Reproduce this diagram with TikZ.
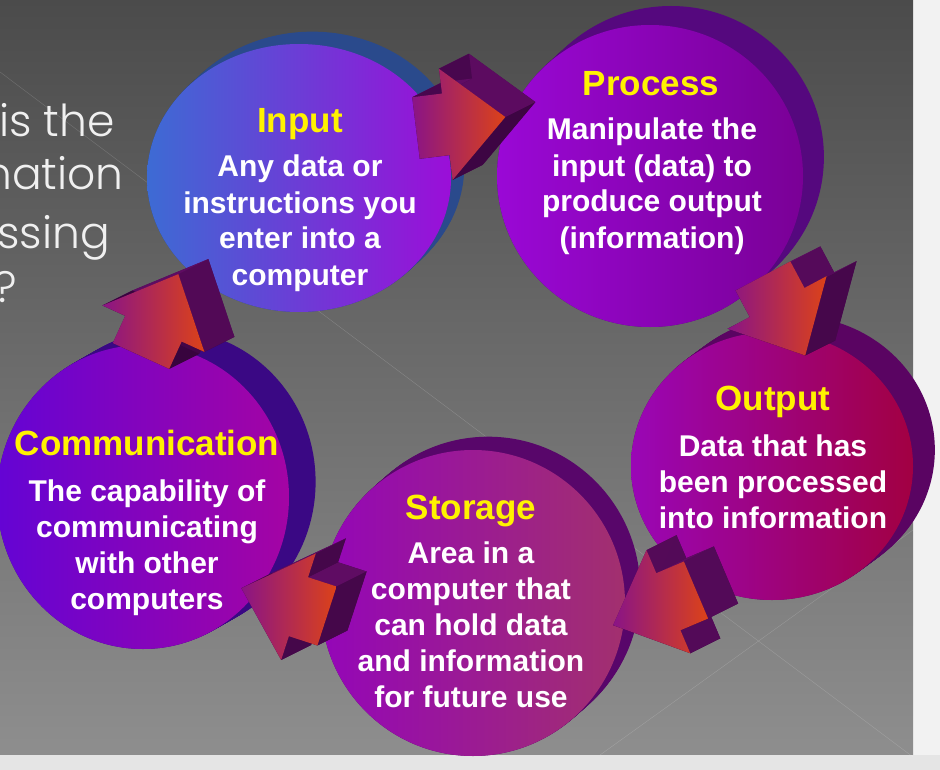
\documentclass[tikz,border=0pt]{standalone}
\usepackage{fontspec}
\setmainfont{Liberation Sans}
\newfontfamily\gothic{Poppins Light}
\usetikzlibrary{calc}

\definecolor{bgtop}{HTML}{4B4B4B}
\definecolor{bgbottom}{HTML}{8E8E8E}
\definecolor{inputL}{HTML}{3D6BD4}
\definecolor{inputR}{HTML}{9B0ED8}
\definecolor{inputS}{HTML}{2A4A8C}
\definecolor{processL}{HTML}{9A08D6}
\definecolor{processR}{HTML}{7A0096}
\definecolor{processS}{HTML}{55087E}
\definecolor{outputL}{HTML}{9A06B6}
\definecolor{outputR}{HTML}{A20042}
\definecolor{outputS}{HTML}{5A0462}
\definecolor{storageL}{HTML}{9406B8}
\definecolor{storageR}{HTML}{A2306E}
\definecolor{storageS}{HTML}{58066A}
\definecolor{commL}{HTML}{6404D4}
\definecolor{commR}{HTML}{A404A4}
\definecolor{commS}{HTML}{3A0884}
\definecolor{arrowL}{HTML}{8A1486}
\definecolor{arrowR}{HTML}{DC4218}
\definecolor{arrowS}{HTML}{4A0652}
\definecolor{arrowTop}{HTML}{600C64}
\definecolor{arrowDark}{HTML}{36043C}

\tikzset{
	stagetitle/.style={anchor=base, inner sep=0pt, text=yellow, font=\fontsize{35}{40}\selectfont\bfseries},
	stagetext/.style={anchor=base, inner sep=0pt, text=white, align=center, font=\fontsize{30}{36}\selectfont\bfseries},
	sidetext/.style={anchor=base east, inner sep=0pt, text=white!94!black, font=\gothic\fontsize{44}{50}\selectfont},
	arrowside/.style={fill=arrowS},
	arrowface/.style={left color=arrowL, right color=arrowR},
}

% disc with its depth: name, centre, x radius, y radius, depth dx, depth dy
\newcommand\stage[6]{%
	\coordinate (#1) at (#2);
	\foreach \t in {0,0.05,...,1}
		\fill[#1S] ([shift={(\t*#5,\t*#6)}]#1) ellipse [x radius=#3, y radius=#4];
	\shade[left color=#1L, right color=#1R] (#1) ellipse [x radius=#3, y radius=#4];
}

% block arrow with depth: name, tail, direction
\newcommand\flowarrow[3]{%
	\coordinate (#1) at (#2);
	\path (#1) ++(#3+90:31) coordinate (#1-1)
		++(#3:30) coordinate (#1-2)
		++(#3+90:25) coordinate (#1-3)
		(#1) ++(#3:90) coordinate (#1-4)
		(#1) ++(#3:30) ++(#3-90:56) coordinate (#1-5)
		++(#3+90:25) coordinate (#1-6)
		(#1) ++(#3-90:31) coordinate (#1-7);
	\fill[arrowside] ([shift={(30,-15)}]#1-1) -- ([shift={(30,-15)}]#1-2) -- ([shift={(30,-15)}]#1-3)
		-- ([shift={(30,-15)}]#1-4) -- ([shift={(30,-15)}]#1-5) -- ([shift={(30,-15)}]#1-6)
		-- ([shift={(30,-15)}]#1-7) -- cycle;
	% sides, lighter where they face up
	\foreach \i/\j/\n in {1/2/90, 2/3/180, 3/4/47, 4/5/-47, 5/6/180, 6/7/-90, 7/1/180} {
		\pgfmathsetmacro\sidemix{50-50*sin(#3+\n)}
		\fill[arrowTop!\sidemix!arrowDark] (#1-\i) -- (#1-\j) -- ([shift={(30,-15)}]#1-\j) -- ([shift={(30,-15)}]#1-\i) -- cycle;
	}
	\shade[arrowface] (#1-1) -- (#1-2) -- (#1-3) -- (#1-4) -- (#1-5) -- (#1-6) -- (#1-7) -- cycle;
}

\begin{document}
\begin{tikzpicture}[x=1pt, y=-1pt]
	\useasboundingbox (0,0) rectangle (940,770);

	% slide
	\fill[white!95!black] (0,0) rectangle (940,770);
	\shade[top color=bgtop, bottom color=bgbottom] (0,0) rectangle (913,755);
	\fill[white!90!black] (0,755) rectangle (940,770);
	\draw[white, opacity=0.18, thin] (0,72) -- (913,757);
	\draw[white, opacity=0.18, thin] (913,530) -- (600,755);

	\node[sidetext] (q1) at (115,137) {is the};
	\node[sidetext] (q2) at (124,190) {nation};
	\node[sidetext] (q3) at (110,248) {essing};
	\node[sidetext] (q4) at (17,302) {e?};

	% discs
	\foreach \name/\cx/\cy/\rx/\ry/\dx/\dy in {comm/143/497/146/152/28/-16,
			storage/473/603/152/153/16/-14, output/772/466/141/134/23/-17,
			process/650/176/153/151/22/-20, input/299/178/152/134/14/-13}
		\stage{\name}{\cx,\cy}{\rx}{\ry}{\dx}{\dy};

	% texts (base of a text block = its last line)
	\node[stagetitle] (input-title) at (300,132.5) {Input};
	\node[stagetext] (input-text) at (300,285) {Any data or\\instructions you\\enter into a\\computer};

	\node[stagetitle] (process-title) at (651,95.5) {Process};
	\node[stagetext] (process-text) at (652,248) {Manipulate the\\input (data) to\\produce output\\(information)};

	\node[stagetitle] (output-title) at (773,410.5) {Output};
	\node[stagetext] (output-text) at (773,528) {Data that has\\been processed\\into information};

	\node[stagetitle] (storage-title) at (471,519.5) {Storage};
	\node[stagetext] (storage-text) at (471,707) {Area in a\\computer that\\can hold data\\and information\\for future use};

	\node[stagetitle] (comm-title) at (147,455.5) {Communication};
	\node[stagetext] (comm-text) at (147,609) {The capability of\\communicating\\with other\\computers};

	% arrows round the cycle
	\foreach \name/\x/\y/\a in {inpro/416/128/-7, proout/763/276/62, outsto/696/590/157,
			stocom/327/616/198, cominp/141/356/294.5}
		\flowarrow{\name}{\x,\y}{\a};
\end{tikzpicture}
\end{document}
